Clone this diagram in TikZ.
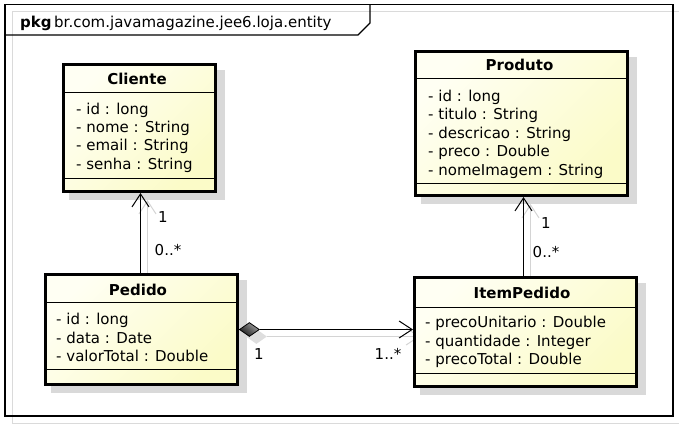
\documentclass[tikz,border=0pt]{standalone}
\usepackage{fontspec}
\setmainfont{DejaVu Sans}
\usetikzlibrary{arrows.meta,shapes.geometric,backgrounds}

\definecolor{shadowc}{RGB}{217,217,217}
\definecolor{lineshadow}{RGB}{212,212,212}
\definecolor{framesh}{RGB}{218,218,218}
\definecolor{diash}{RGB}{222,222,222}
\definecolor{fillA}{RGB}{255,255,243}
\definecolor{fillB}{RGB}{251,251,200}
\definecolor{diaA}{RGB}{160,160,160}
\definecolor{diaB}{RGB}{25,25,25}

\begin{document}
\begin{tikzpicture}[x=1pt,y=-1pt,
  classbox/.style={draw=black, line width=3pt, outer sep=1.5pt, inner sep=0pt,
    anchor=north west, top color=fillA, bottom color=fillB, shading angle=45},
  sepline/.style={draw=black, line width=1pt},
  titletext/.style={font=\fontsize{15}{18}\selectfont\bfseries, anchor=base, inner sep=0pt},
  attrtext/.style={font=\fontsize{15}{18}\selectfont, anchor=base west, inner sep=0pt},
  multtext/.style={font=\fontsize{15}{18}\selectfont, inner sep=0pt},
  assoc/.style={draw=black, line width=1pt, -{Straight Barb[length=13pt,width=17pt]}},
  assocsh/.style={draw=lineshadow, line width=1pt, -{Straight Barb[length=13pt,width=17pt]}},
]
\useasboundingbox (0,0) rectangle (679,424);

% package frame
\draw[framesh, line width=1pt] (12,11) rectangle (680,423);
\draw[black, line width=1.3pt] (5,4.5) rectangle (673,416);
\draw[black, line width=1.3pt] (5,35) -- (358,35) -- (370,23) -- (370,4.5);
\node[anchor=base west, inner sep=0pt, font=\fontsize{15}{18}\selectfont\bfseries] (pkg) at (20,27) {pkg};
\node[anchor=base west, inner sep=0pt, font=\fontsize{15}{18}\selectfont] (pkgname) at (54,27) {br.com.javamagazine.jee6.loja.entity};

% classes
\node[classbox, minimum width=152pt, minimum height=127pt] (cliente) at (62,63) {};
\node[classbox, minimum width=192pt, minimum height=110pt] (pedido) at (44,273) {};
\node[classbox, minimum width=222pt, minimum height=109pt] (itempedido) at (413,276) {};
\node[classbox, minimum width=212pt, minimum height=144pt] (produto) at (414,50) {};

% Cliente
\node[titletext] (clt) at (137,84.5) {Cliente};
\draw[sepline] (cliente.west |- 0,92) -- (cliente.east |- 0,92);
\node[attrtext] (cl1) at (76,114) {- id : long};
\node[attrtext] (cl2) at (76,132.4) {- nome : String};
\node[attrtext] (cl3) at (76,150.8) {- email : String};
\node[attrtext] (cl4) at (76,169.2) {- senha : String};
\draw[sepline] (cliente.west |- 0,178) -- (cliente.east |- 0,178);

% Pedido
\node[titletext] (pet) at (138,295) {Pedido};
\draw[sepline] (pedido.west |- 0,302) -- (pedido.east |- 0,302);
\node[attrtext] (pe1) at (56,324.5) {- id : long};
\node[attrtext] (pe2) at (56,343) {- data : Date};
\node[attrtext] (pe3) at (56,361.5) {- valorTotal : Double};
\draw[sepline] (pedido.west |- 0,369) -- (pedido.east |- 0,369);

% ItemPedido
\node[titletext] (itt) at (522,298.3) {ItemPedido};
\draw[sepline] (itempedido.west |- 0,307) -- (itempedido.east |- 0,307);
\node[attrtext] (it1) at (425,327.5) {- precoUnitario : Double};
\node[attrtext] (it2) at (425,346) {- quantidade : Integer};
\node[attrtext] (it3) at (425,364.5) {- precoTotal : Double};
\draw[sepline] (itempedido.west |- 0,373) -- (itempedido.east |- 0,373);

% Produto
\node[titletext] (prt) at (519.5,70.7) {Produto};
\draw[sepline] (produto.west |- 0,78) -- (produto.east |- 0,78);
\node[attrtext] (pr1) at (428,101) {- id : long};
\node[attrtext] (pr2) at (428,119.5) {- titulo : String};
\node[attrtext] (pr3) at (428,138) {- descricao : String};
\node[attrtext] (pr4) at (428,156.5) {- preco : Double};
\node[attrtext] (pr5) at (428,175) {- nomeImagem : String};
\draw[sepline] (produto.west |- 0,183) -- (produto.east |- 0,183);

% composition diamond
\node[diamond, draw=black, line width=0.8pt, inner sep=0pt, minimum width=20pt,
  minimum height=14pt, anchor=west, top color=diaA, bottom color=diaB, shading angle=-40]
  (dia) at (pedido.east) {};

% connector end points
\coordinate (c1a) at ([xshift=-1pt]pedido.north);
\coordinate (c1b) at (c1a |- cliente.south);
\coordinate (c2a) at ([xshift=-2pt]itempedido.north);
\coordinate (c2b) at (c2a |- produto.south);
\coordinate (c3b) at (dia.east -| itempedido.west);

% shadows
\begin{scope}[on background layer]
  \foreach \n in {cliente,pedido,itempedido,produto}
    \fill[shadowc] ([shift={(7,7)}]\n.north west) rectangle ([shift={(8,7)}]\n.south east);
  \draw[assocsh] ([shift={(7,7)}]c1a) -- ([shift={(7,7)}]c1b);
  \draw[assocsh] ([shift={(7,7)}]c2a) -- ([shift={(7,7)}]c2b);
  \draw[assocsh] ([shift={(7,7)}]dia.east) -- ([shift={(7,7)}]c3b);
  \fill[diash] ([shift={(7,7)}]dia.west) -- ([shift={(7,7)}]dia.north)
    -- ([shift={(7,7)}]dia.east) -- ([shift={(7,7)}]dia.south) -- cycle;
\end{scope}

% connectors
\draw[assoc] (c1a) -- (c1b);
\draw[assoc] (c2a) -- (c2b);
\draw[assoc] (dia.east) -- (c3b);

% multiplicities
\node[multtext] (m1) at (163,217) {1};
\node[multtext] (m2) at (168,250) {0..*};
\node[multtext] (m3) at (546,223) {1};
\node[multtext] (m4) at (546,252) {0..*};
\node[multtext] (m5) at (259,354) {1};
\node[multtext] (m6) at (388,354) {1..*};
\end{tikzpicture}
\end{document}
